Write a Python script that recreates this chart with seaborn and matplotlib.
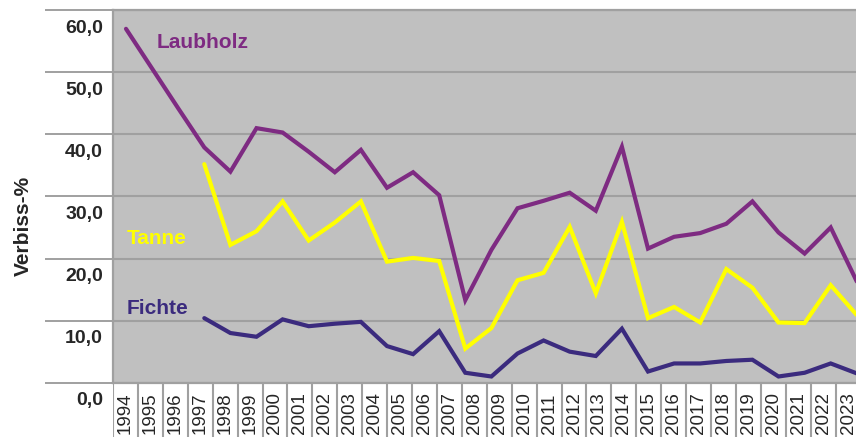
import numpy as np
import pandas as pd
import matplotlib
matplotlib.use('Agg')
import matplotlib.pyplot as plt
import seaborn as sns
from matplotlib import transforms

# Werte (Verbiss-% je Jahr); 2023 liegt ausserhalb des Bildes
jahre = list(range(1994, 2024))
laubholz = [57.0, 50.6, 44.2, 37.9, 34.0, 41.0, 40.3, 37.2, 33.9, 37.5,
            31.4, 33.9, 30.2, 13.3, 21.4, 28.1, 29.3, 30.6, 27.7, 38.0,
            21.6, 23.5, 24.1, 25.6, 29.2, 24.2, 20.8, 25.0, 16.3, np.nan]
tanne = [np.nan, np.nan, np.nan, 35.2, 22.2, 24.4, 29.2, 22.9, 25.8, 29.2,
         19.5, 20.1, 19.6, 5.5, 8.8, 16.5, 17.7, 25.1, 14.4, 25.9,
         10.4, 12.2, 9.7, 18.3, 15.3, 9.7, 9.6, 15.7, 10.9, np.nan]
fichte = [np.nan, np.nan, np.nan, 10.4, 8.0, 7.4, 10.2, 9.1, 9.5, 9.8,
          5.9, 4.6, 8.3, 1.6, 1.0, 4.7, 6.8, 5.0, 4.3, 8.7,
          1.8, 3.1, 3.1, 3.5, 3.7, 1.0, 1.6, 3.1, 1.5, np.nan]
y_ticks = [0, 10, 20, 30, 40, 50, 60]

farben = {'Laubholz': '#7e2b82', 'Tanne': '#ffff00', 'Fichte': '#3b2b7e'}
grau = '#a0a0a0'

df = pd.DataFrame({'Jahr': jahre, 'Laubholz': laubholz, 'Tanne': tanne, 'Fichte': fichte})
df_long = df.melt(id_vars='Jahr', var_name='Baumart', value_name='Verbiss').dropna()

sns.set_style('white')
plt.rcParams['font.family'] = ['Liberation Sans', 'DejaVu Sans']
plt.rcParams['lines.solid_joinstyle'] = 'miter'

W, H = 856, 437
fig = plt.figure(figsize=(W / 100, H / 100), dpi=100)

# plot area: 113..861 px wide (right edge cut off by the picture), 10..383 px high
ax = fig.add_axes([113 / W, (H - 382.7) / H, (861 - 113) / W, (382.7 - 10.2) / H])
ax.set_facecolor('#c0c0c0')

sns.lineplot(data=df_long, x='Jahr', y='Verbiss', hue='Baumart', palette=farben,
             linewidth=3, legend=False, ax=ax)

step = 26.1  # px per year for the lines
ax.set_xlim(1994 - 13 / step, 1994 + (861 - 126) / step)
ax.set_ylim(0, 60)
ax.set_xticks([])
ax.set_xlabel('')
ax.set_ylabel('')

ax.set_yticks(y_ticks)
ax.set_yticklabels([f'{v:.1f}'.replace('.', ',') for v in y_ticks],
                   fontsize=14, fontweight='bold')
ax.tick_params(axis='y', length=49, width=1.4, color=grau, pad=-41.8, left=True)
ax.yaxis.grid(True, color=grau, linewidth=1.5)
ax.set_axisbelow(True)
offset = transforms.ScaledTranslation(0, -0.095, fig.dpi_scale_trans)
for lab in ax.get_yticklabels():
    lab.set_va('top')
    lab.set_transform(lab.get_transform() + offset)

for side in ['top', 'left', 'bottom']:
    ax.spines[side].set_color(grau)
    ax.spines[side].set_linewidth(1.6)
ax.spines['right'].set_visible(False)

ax.text(1995.19, 54.8, 'Laubholz', color=farben['Laubholz'], fontsize=15,
        fontweight='bold', va='center')
ax.text(1994.04, 23.2, 'Tanne', color=farben['Tanne'], fontsize=15,
        fontweight='bold', va='center')
ax.text(1994.04, 11.9, 'Fichte', color=farben['Fichte'], fontsize=15,
        fontweight='bold', va='center')

# year label strip below the plot
ax2 = fig.add_axes([113 / W, 0, 747.6 / W, (H - 382.7) / H])
ax2.set_xlim(-0.5, len(jahre) - 0.5)
ax2.set_ylim(0, 1)
ax2.axis('off')
ax2.vlines(np.arange(-0.5, len(jahre), 1), 0, 1, colors=grau, linewidth=1.5)
for i, j in enumerate(jahre):
    ax2.text(i, 0.05, str(j), rotation=90, ha='center', va='bottom', fontsize=13.5)

fig.text(23 / W, 1 - 226 / H, 'Verbiss-%', rotation=90, fontsize=15,
         fontweight='bold', ha='center', va='center')

fig.savefig('out.png', dpi=100)
